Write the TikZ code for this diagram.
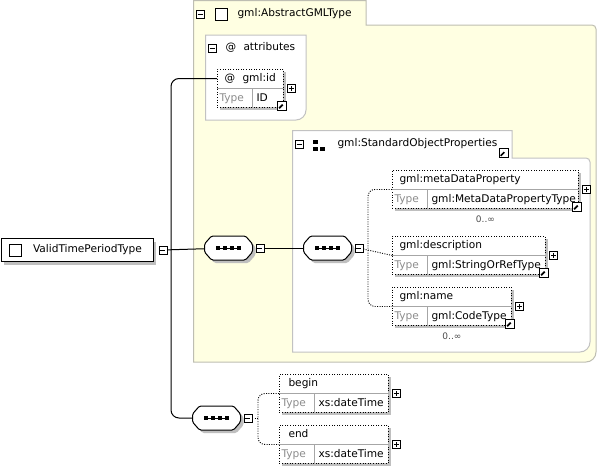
\documentclass[tikz,border=0pt]{standalone}
\usepackage{fontspec}
\setmainfont{DejaVu Sans}
\usetikzlibrary{arrows}
\usetikzlibrary{positioning}
\usetikzlibrary{shapes}
\usetikzlibrary{shadows}
\definecolor{groupfill}{RGB}{255,255,226}
\definecolor{groupline}{RGB}{190,190,178}
\definecolor{boxline}{RGB}{194,194,194}

\begin{document}
\begin{tikzpicture}[x=1pt,y=-1pt,line width=1pt,font=\fontsize{10.6}{12}\selectfont]
  \tikzset{withshadow/.style = {drop shadow={shadow xshift=3pt,shadow yshift=-3pt,fill=black!25,opacity=1}}}
  \tikzset{elem/.style = {draw, line width=0.9pt, dash pattern=on 1pt off 1.6pt, fill=white, withshadow, anchor=north west, minimum height=38pt, inner sep=0pt}}
  \tikzset{lbl/.style = {anchor=west, inner sep=2pt, text height=7.5pt, text depth=2pt}}
  \tikzset{typelbl/.style = {lbl, text=black!45}}
  \tikzset{cell/.style = {draw=black!35, line width=0.8pt}}
  \tikzset{occ/.style = {font=\fontsize{9}{10}\selectfont, text=black!70}}
  \tikzset{minusbox/.style = {draw, fill=white, minimum size=8pt, inner sep=0pt, line width=0.8pt,
      path picture={\draw[line width=0.8pt] ([xshift=1.5pt]path picture bounding box.west) -- ([xshift=-1.5pt]path picture bounding box.east);}}}
  \tikzset{plusbox/.style = {draw, fill=white, minimum size=8pt, inner sep=0pt, line width=0.8pt,
      path picture={\draw[line width=0.8pt] ([xshift=1.5pt]path picture bounding box.west) -- ([xshift=-1.5pt]path picture bounding box.east)
        ([yshift=1.5pt]path picture bounding box.south) -- ([yshift=-1.5pt]path picture bounding box.north);}}}
  \tikzset{linkbox/.style = {draw, fill=white, minimum size=9pt, inner sep=0pt, line width=0.8pt,
      path picture={\draw[line width=1.7pt] ([shift={(-2.8pt,-2.8pt)}]path picture bounding box.center) -- ([shift={(1pt,1pt)}]path picture bounding box.center);
        \fill ([shift={(3.3pt,3.3pt)}]path picture bounding box.center) -- ([shift={(-1.5pt,3.3pt)}]path picture bounding box.center) -- ([shift={(3.3pt,-1.5pt)}]path picture bounding box.center) -- cycle;}}}
  \tikzset{checkbox/.style = {draw, fill=white, minimum size=12pt, inner sep=0pt, line width=0.8pt}}
  \tikzset{seqbox/.style = {minimum width=47pt, minimum height=23pt, inner sep=0pt}}
  \tikzset{seqline/.style = {draw, fill=white, withshadow, rounded corners=1.5pt}}
  \tikzset{link/.style = {line width=1pt}}
  \tikzset{optlink/.style = {line width=0.9pt, dash pattern=on 1pt off 1.4pt}}

  \useasboundingbox (0,0) rectangle (598,469);
  \fill[white] (0,0) rectangle (598,469);

  %%%%%%%%%%%% groups

  \draw[groupline, fill=groupfill] (193.5,362) -- (193.5,0.5) -- (366,0.5) -- (366,25) [rounded corners=4pt] -- (596,25) [rounded corners=10pt] -- (596,362) [sharp corners] -- cycle;
  \draw[boxline, fill=white] (205.5,120) -- (205.5,35) -- (306,35) [rounded corners=10pt] -- (306,120) [sharp corners] -- cycle;
  \draw[boxline, fill=white] (292.5,352) -- (292.5,130.5) -- (512,130.5) -- (512,158) [rounded corners=4pt] -- (590,158) [rounded corners=10pt] -- (590,352) [sharp corners] -- cycle;

  \node[minusbox] (agml-minus) at (200,14) {};
  \node[checkbox] (agml-check) at (221,14) {};
  \node[lbl] (agml) at (235,14) {gml:AbstractGMLType};

  \node[minusbox] (attr-minus) at (212,48) {};
  \node[lbl] (attr-at) at (223,48) {@};
  \node[lbl] (attr) at (241,48) {attributes};

  \node[minusbox] (sop-minus) at (299,144) {};
  \fill (313,139.5) rectangle +(4.5,4.5);
  \fill (313,146.5) rectangle +(4.5,4.5);
  \fill (320,146.5) rectangle +(4.5,4.5);
  \node[lbl] (sop) at (335,144) {gml:StandardObjectProperties};
  \node[linkbox] (sop-link) at (503.5,153) {};

  %%%%%%%%%%%% main type

  \node[draw, fill=white, withshadow, anchor=north west, minimum width=152pt, minimum height=23pt, inner sep=0pt] (vtp) at (0.5,238) {};
  \node[checkbox] (vtp-check) at ([xshift=15]vtp.west) {};
  \node[lbl] (vtp-name) at ([xshift=30]vtp.west) {ValidTimePeriodType};
  \node[minusbox, right=5pt of vtp] (vtp-minus) {};

  %%%%%%%%%%%% sequences

  \node[seqbox] (seq1) at (228.5,248) {};
  \node[minusbox, right=3pt of seq1] (seq1-minus) {};
  \node[seqbox] (seq2) at (327.5,248) {};
  \node[minusbox, right=3pt of seq2] (seq2-minus) {};
  \node[seqbox] (seq3) at (216.5,418) {};
  \node[minusbox, right=3pt of seq3] (seq3-minus) {};

  \foreach \s in {seq1,seq2,seq3} {
    \path[seqline] ([yshift=4]\s.west) -- ([xshift=7]\s.north west) -- ([xshift=-7]\s.north east) -- ([yshift=4]\s.east)
      -- ([yshift=-4]\s.east) -- ([xshift=-7]\s.south east) -- ([xshift=7]\s.south west) -- ([yshift=-4]\s.west) -- cycle;
    \draw ([xshift=-11]\s.center) -- ([xshift=11]\s.center);
    \foreach \dx in {-10.5,-3.5,3.5,10.5}
      \fill ([xshift=\dx]\s.center) +(-2,-2) rectangle +(2,2);
  }

  %%%%%%%%%%%% gml:id

  \node[elem, minimum width=66pt] (gmlid) at (217,69) {};
  \draw[cell] (gmlid.west) -- (gmlid.east);
  \draw[cell] ([xshift=35]gmlid.west) -- ([xshift=35]gmlid.south west);
  \node[lbl] (gmlid-at) at ([xshift=5,yshift=-9.5]gmlid.north west) {@};
  \node[lbl] (gmlid-name) at ([xshift=23,yshift=-9.5]gmlid.north west) {gml:id};
  \node[typelbl] (gmlid-type) at ([yshift=9.5]gmlid.south west) {Type};
  \node[lbl] (gmlid-val) at ([xshift=37,yshift=9.5]gmlid.south west) {ID};
  \node[plusbox, right=3pt of gmlid] (gmlid-plus) {};
  \node[linkbox] (gmlid-link) at ([xshift=-2,yshift=2.5]gmlid.south east) {};

  %%%%%%%%%%%% gml:metaDataProperty

  \node[elem, minimum width=186pt] (meta) at (392,170) {};
  \draw[cell] (meta.west) -- (meta.east);
  \draw[cell] ([xshift=35]meta.west) -- ([xshift=35]meta.south west);
  \node[lbl] (meta-name) at ([xshift=5,yshift=-9.5]meta.north west) {gml:metaDataProperty};
  \node[typelbl] (meta-type) at ([yshift=9.5]meta.south west) {Type};
  \node[lbl] (meta-val) at ([xshift=37,yshift=9.5]meta.south west) {gml:MetaDataPropertyType};
  \node[plusbox, right=3pt of meta] (meta-plus) {};
  \node[linkbox] (meta-link) at ([xshift=-2,yshift=2.5]meta.south east) {};
  \node[occ] (meta-occ) at ([yshift=-10]meta.south) {0..∞};

  %%%%%%%%%%%% gml:description

  \node[elem, minimum width=153pt] (desc) at (392,236) {};
  \draw[cell] (desc.west) -- (desc.east);
  \draw[cell] ([xshift=35]desc.west) -- ([xshift=35]desc.south west);
  \node[lbl] (desc-name) at ([xshift=5,yshift=-9.5]desc.north west) {gml:description};
  \node[typelbl] (desc-type) at ([yshift=9.5]desc.south west) {Type};
  \node[lbl] (desc-val) at ([xshift=37,yshift=9.5]desc.south west) {gml:StringOrRefType};
  \node[plusbox, right=3pt of desc] (desc-plus) {};
  \node[linkbox] (desc-link) at ([xshift=-2,yshift=2.5]desc.south east) {};

  %%%%%%%%%%%% gml:name

  \node[elem, minimum width=119pt] (name) at (392,287) {};
  \draw[cell] (name.west) -- (name.east);
  \draw[cell] ([xshift=35]name.west) -- ([xshift=35]name.south west);
  \node[lbl] (name-name) at ([xshift=5,yshift=-9.5]name.north west) {gml:name};
  \node[typelbl] (name-type) at ([yshift=9.5]name.south west) {Type};
  \node[lbl] (name-val) at ([xshift=37,yshift=9.5]name.south west) {gml:CodeType};
  \node[plusbox, right=3pt of name] (name-plus) {};
  \node[linkbox] (name-link) at ([xshift=-2,yshift=2.5]name.south east) {};
  \node[occ] (name-occ) at ([yshift=-10]name.south) {0..∞};

  %%%%%%%%%%%% begin, end

  \node[elem, minimum width=109pt] (begin) at (279,374) {};
  \draw[cell] (begin.west) -- (begin.east);
  \draw[cell] ([xshift=35]begin.west) -- ([xshift=35]begin.south west);
  \node[lbl] (begin-name) at ([xshift=7,yshift=-9.5]begin.north west) {begin};
  \node[typelbl] (begin-type) at ([yshift=9.5]begin.south west) {Type};
  \node[lbl] (begin-val) at ([xshift=37,yshift=9.5]begin.south west) {xs:dateTime};
  \node[plusbox, right=3pt of begin] (begin-plus) {};

  \node[elem, minimum width=109pt] (end) at (279,425) {};
  \draw[cell] (end.west) -- (end.east);
  \draw[cell] ([xshift=35]end.west) -- ([xshift=35]end.south west);
  \node[lbl] (end-name) at ([xshift=7,yshift=-9.5]end.north west) {end};
  \node[typelbl] (end-type) at ([yshift=9.5]end.south west) {Type};
  \node[lbl] (end-val) at ([xshift=37,yshift=9.5]end.south west) {xs:dateTime};
  \node[plusbox, right=3pt of end] (end-plus) {};

  %%%%%%%%%%%% connectors

  \coordinate (trunk) at (171,248);
  \coordinate (br2) at (368,248);
  \coordinate (br3) at (258,418);

  \draw[link] (vtp-minus) -- (seq1);
  \draw[link] (seq1-minus) -- (seq2);
  \draw[link, rounded corners=8pt] (gmlid-name.west -| gmlid.west) -- (gmlid-name.west -| trunk) -- (trunk |- seq3.west) -- (seq3.west);

  \draw[optlink, rounded corners=7pt] (meta.west) -- (meta.west -| br2) -- (name.west -| br2) -- (name.west);
  \draw[optlink] (seq2-minus) -- (desc.west);
  \draw[optlink, rounded corners=7pt] (begin.west) -- (begin.west -| br3) -- (end.west -| br3) -- (end.west);
  \draw[optlink] (seq3-minus) -- (br3);

\end{tikzpicture}
\end{document}
